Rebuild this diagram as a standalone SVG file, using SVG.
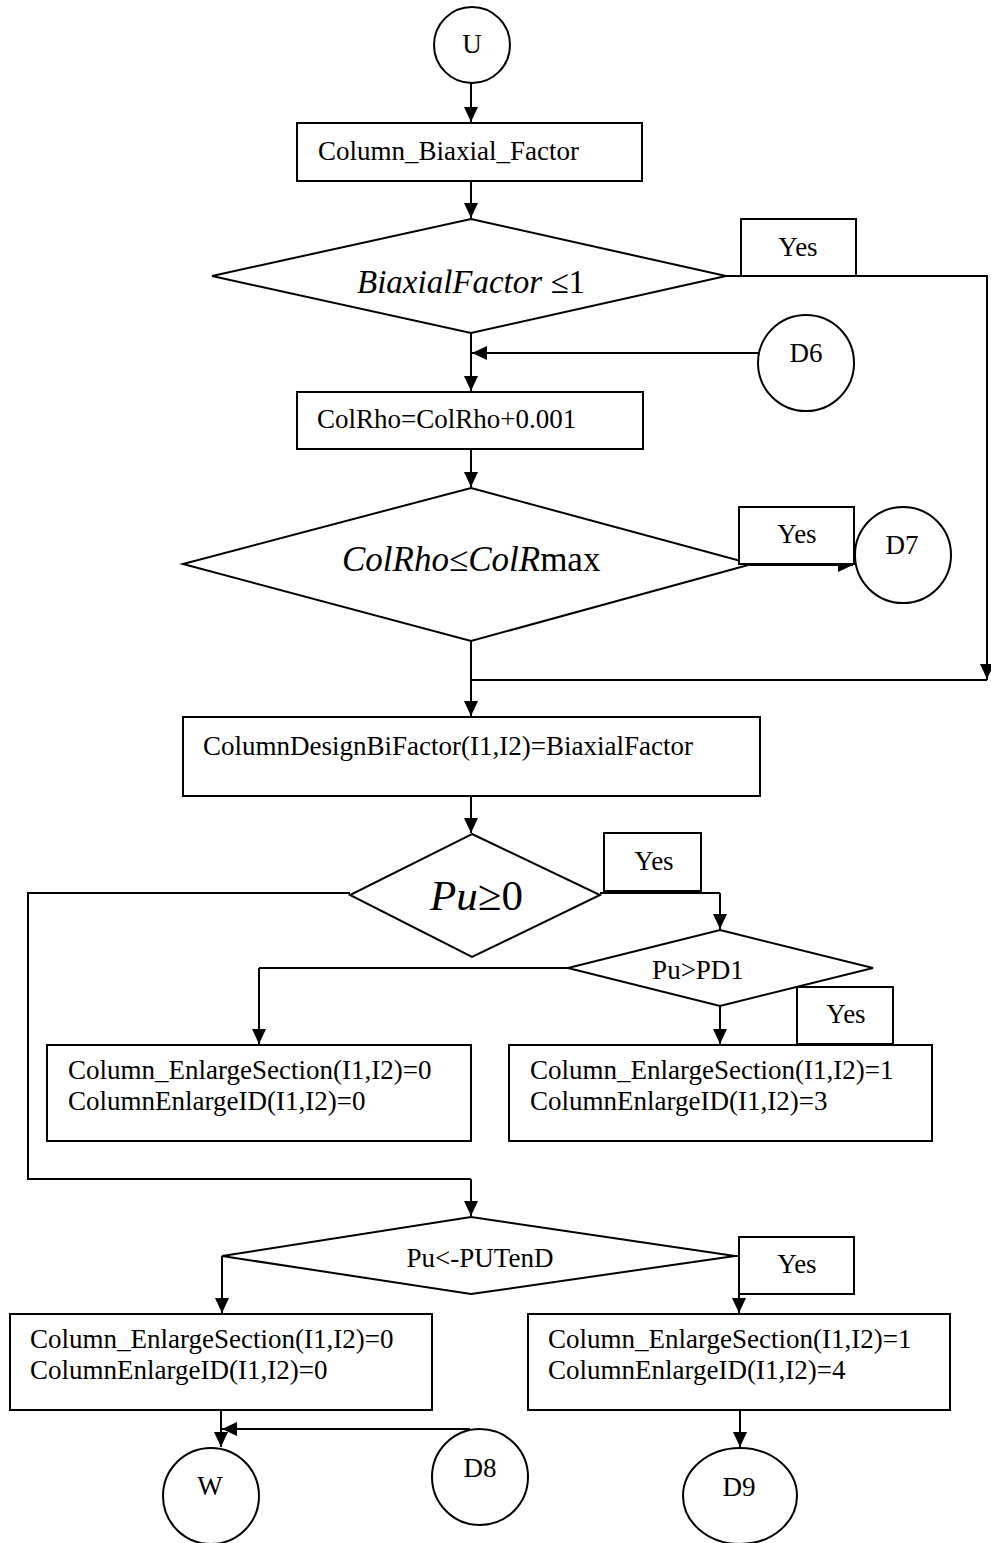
<svg xmlns="http://www.w3.org/2000/svg" width="991" height="1543" viewBox="0 0 991 1543">
<defs>
<marker id="ah" markerUnits="userSpaceOnUse" markerWidth="16" markerHeight="14" refX="15" refY="7" orient="auto">
<path d="M0,0 L15,7 L0,14 z" fill="#000"/>
</marker>
<style>
.s{fill:#fff;stroke:#000;stroke-width:2}
.c{fill:none;stroke:#000;stroke-width:2}
.a{fill:none;stroke:#000;stroke-width:2;marker-end:url(#ah)}
text{font-family:"Liberation Serif","Times New Roman",serif;font-size:27px;fill:#000}
.m{text-anchor:middle}
.i{font-style:italic}
.f33{font-size:33px}
.f34{font-size:35px}
.f43{font-size:43px}
</style>
</defs>
<rect width="991" height="1543" fill="#fff"/>
<g id="connectors">
<path class="a" d="M471,83 L471,122"/>
<path class="a" d="M471,181 L471,218"/>
<path class="c" d="M726,276 L987,276 L987,680"/>
<path class="a" d="M987,640 L987,679"/>
<path class="a" d="M471,333 L471,391"/>
<path class="a" d="M758,353 L472,353"/>
<path class="a" d="M471,449 L471,487"/>
<path class="a" d="M750,565 L853,565"/>
<path class="c" d="M471,641 L471,680 L987,680"/>
<path class="a" d="M471,680 L471,716"/>
<path class="a" d="M471,796 L471,833"/>
<path class="c" d="M350,893 L28,893 L28,1179 L471,1179"/>
<path class="a" d="M471,1179 L471,1216"/>
<path class="c" d="M600,893 L720,893"/>
<path class="a" d="M720,893 L720,929"/>
<path class="c" d="M568,968 L259,968"/>
<path class="a" d="M259,968 L259,1044"/>
<path class="a" d="M720,1006 L720,1044"/>
<path class="a" d="M222,1256 L222,1313"/>
<path class="c" d="M733,1256 L739,1256"/>
<path class="a" d="M739,1256 L739,1313"/>
<path class="a" d="M221,1410 L221,1447"/>
<path class="a" d="M470,1429 L222,1429"/>
<path class="a" d="M740,1410 L740,1447"/>
</g>
<g id="U">
<ellipse class="s" cx="472" cy="45" rx="38" ry="38"/>
<text class="m" x="472" y="53">U</text>
</g>
<g id="biaxial-factor">
<rect class="s" x="297" y="123" width="345" height="58"/>
<text x="318" y="160">Column_Biaxial_Factor</text>
</g>
<g id="decision-biaxial">
<polygon class="s" points="471,219 726,276 471,333 212,276"/>
<text class="f33" x="357" y="293"><tspan class="i">BiaxialFactor</tspan> ≤1</text>
</g>
<g id="yes-1">
<rect class="s" x="741" y="219" width="115" height="57"/>
<text class="m" x="798" y="256">Yes</text>
</g>
<g id="D6">
<ellipse class="s" cx="806" cy="363" rx="48" ry="48"/>
<text class="m" x="806" y="362">D6</text>
</g>
<g id="colrho-inc">
<rect class="s" x="297" y="392" width="346" height="57"/>
<text x="317" y="428">ColRho=ColRho+0.001</text>
</g>
<g id="decision-colrho">
<polygon class="s" points="471,488 752,564 471,641 183,564"/>
<text class="f34" x="342" y="571"><tspan class="i">ColRho</tspan>≤<tspan class="i">ColR</tspan>max</text>
</g>
<g id="yes-2">
<rect class="s" x="739" y="507" width="115" height="57"/>
<text class="m" x="797" y="543">Yes</text>
</g>
<g id="D7">
<ellipse class="s" cx="903" cy="555" rx="48" ry="48"/>
<text class="m" x="902" y="554">D7</text>
</g>
<g id="design-bifactor">
<rect class="s" x="183" y="717" width="577" height="79"/>
<text x="203" y="755">ColumnDesignBiFactor(I1,I2)=BiaxialFactor</text>
</g>
<g id="decision-pu">
<polygon class="s" points="472,834 600,895 472,957 350,895"/>
<text class="f43" x="430" y="910"><tspan class="i">Pu</tspan>≥0</text>
</g>
<g id="yes-3">
<rect class="s" x="604" y="833" width="97" height="58"/>
<text class="m" x="654" y="870">Yes</text>
</g>
<g id="decision-pd1">
<polygon class="s" points="720,930 873,968 720,1006 568,968"/>
<text class="m" x="698" y="979">Pu&gt;PD1</text>
</g>
<g id="yes-4">
<rect class="s" x="797" y="987" width="96" height="57"/>
<text class="m" x="846" y="1023">Yes</text>
</g>
<g id="enlarge-0-a">
<rect class="s" x="47" y="1045" width="424" height="96"/>
<text x="68" y="1079">Column_EnlargeSection(I1,I2)=0</text>
<text x="68" y="1110">ColumnEnlargeID(I1,I2)=0</text>
</g>
<g id="enlarge-3">
<rect class="s" x="509" y="1045" width="423" height="96"/>
<text x="530" y="1079">Column_EnlargeSection(I1,I2)=1</text>
<text x="530" y="1110">ColumnEnlargeID(I1,I2)=3</text>
</g>
<g id="decision-ten">
<polygon class="s" points="471,1217 735,1256 471,1294 222,1256"/>
<text class="m" x="480" y="1267">Pu&lt;-PUTenD</text>
</g>
<g id="yes-5">
<rect class="s" x="739" y="1237" width="115" height="57"/>
<text class="m" x="797" y="1273">Yes</text>
</g>
<g id="enlarge-0-b">
<rect class="s" x="10" y="1314" width="422" height="96"/>
<text x="30" y="1348">Column_EnlargeSection(I1,I2)=0</text>
<text x="30" y="1379">ColumnEnlargeID(I1,I2)=0</text>
</g>
<g id="enlarge-4">
<rect class="s" x="528" y="1314" width="422" height="96"/>
<text x="548" y="1348">Column_EnlargeSection(I1,I2)=1</text>
<text x="548" y="1379">ColumnEnlargeID(I1,I2)=4</text>
</g>
<g id="W">
<ellipse class="s" cx="211" cy="1496" rx="48" ry="48"/>
<text class="m" x="210" y="1495">W</text>
</g>
<g id="D8">
<ellipse class="s" cx="480" cy="1477" rx="48" ry="48"/>
<text class="m" x="480" y="1477">D8</text>
</g>
<g id="D9">
<ellipse class="s" cx="740" cy="1496" rx="57" ry="48"/>
<text class="m" x="739" y="1496">D9</text>
</g>
</svg>
